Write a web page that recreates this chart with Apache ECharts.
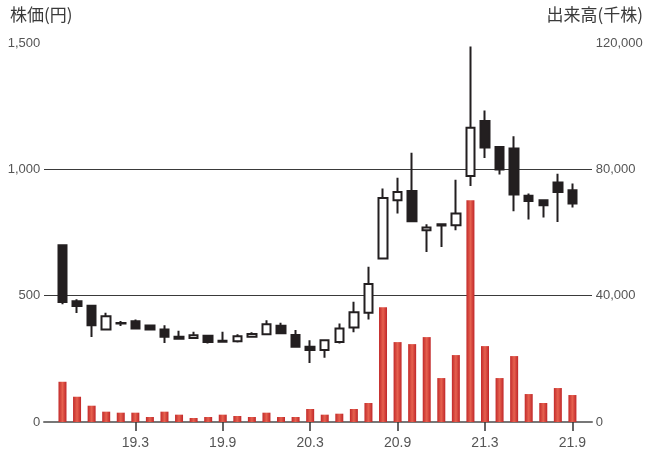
<!DOCTYPE html>
<html>
<head>
<meta charset="utf-8">
<script src="https://cdn.jsdelivr.net/npm/echarts@6/dist/echarts.min.js"></script>
<style>html,body{margin:0;padding:0;background:#fff;}#c{width:655px;height:461px;}</style>
</head>
<body>
<div id="c"></div>
<script>
const categories = ['18.10','18.11','18.12','19.1','19.2','19.3','19.4','19.5','19.6','19.7','19.8','19.9','19.10','19.11','19.12','20.1','20.2','20.3','20.4','20.5','20.6','20.7','20.8','20.9','20.10','20.11','20.12','21.1','21.2','21.3','21.4','21.5','21.6','21.7','21.8','21.9'];
const tickLabels = ['19.3','19.9','20.3','20.9','21.3','21.9'];
const openP  = [700,478,460,366,392,399,382,366,337,332,341,322,320,337,347,381,344,298,285,317,374,432,647,878,914,759,783,779,974,1191,1088,1082,895,878,948,917];
const closeP = [475,459,383,419,390,370,366,337,329,343,317,318,339,348,387,351,298,285,324,370,434,546,887,910,795,770,778,825,1165,1086,999,900,875,858,910,865];
const lowP   = [466,431,336,366,380,368,364,313,329,332,311,317,315,333,345,349,296,234,254,311,355,406,647,825,795,673,693,759,934,1045,980,834,801,809,792,849];
const highP  = [700,486,462,432,400,406,386,383,361,357,341,357,347,355,403,393,364,324,326,390,476,614,924,967,1066,783,786,959,1486,1233,1090,1131,904,880,983,944];
const volume = [12740,8000,5160,3270,2950,2950,1580,3270,2320,1260,1580,2320,1900,1580,2950,1580,1580,4110,2320,2630,4110,6010,36360,25300,24660,26880,13910,21190,70200,24030,13910,20870,8850,6010,10750,8540];

const kData = categories.map((c,i)=>[openP[i],closeP[i],lowP[i],highP[i]]);
const showTick = (idx, val) => tickLabels.indexOf(categories[idx]) >= 0;
const FONT = '"Liberation Sans", Arial, sans-serif';
const CJK = '"Noto Sans CJK JP", sans-serif';

const chart = echarts.init(document.getElementById('c'));
chart.setOption({
  animation: false,
  backgroundColor: '#fff',
  graphic: [
    {type:'text', left: 10, top: 6, style:{text:'株価(円)', font:'17px ' + CJK, fill:'#3a3a3a'}},
    {type:'text', right: 12, top: 6, style:{text:'出来高(千株)', font:'17px ' + CJK, fill:'#3a3a3a'}}
  ],
  grid: [
    {left: 55.2, right: 75.3, top: 43, bottom: 39},
    {left: 44, right: 63, top: 169, bottom: 39}
  ],
  xAxis: [
    {
      type: 'category', gridIndex: 0, data: categories, boundaryGap: true,
      axisLine: {show: false},
      axisTick: {show: true, alignWithLabel: true, interval: showTick, length: 9, inside: false, lineStyle:{color:'#333', width:1.5}},
      axisLabel: {interval: showTick, margin: 14, color:'#555', fontSize: 14, fontFamily: FONT},
      splitLine: {show: false}
    },
    {
      type: 'value', gridIndex: 1, min: 0, max: 1,
      axisLine: {show: true, onZero: false, lineStyle:{color:'#777', width:2}},
      axisTick: {show:false}, axisLabel:{show:false}, splitLine:{show:false}
    }
  ],
  yAxis: [
    {
      type: 'value', gridIndex: 0, min: 0, max: 1500, interval: 500, position:'left',
      axisLine:{show:false}, axisTick:{show:false}, splitLine:{show:false},
      axisLabel:{margin: 15, color:'#555', fontSize: 13, fontFamily: FONT,
        formatter: v => v.toLocaleString('en-US')}
    },
    {
      type: 'value', gridIndex: 0, min: 0, max: 120000, interval: 40000, position:'right',
      axisLine:{show:false}, axisTick:{show:false}, splitLine:{show:false},
      axisLabel:{margin: 16, color:'#555', fontSize: 13, fontFamily: FONT, align:'left',
        formatter: v => v.toLocaleString('en-US')}
    },
    {
      type: 'value', gridIndex: 1, min: 0, max: 1000, interval: 500,
      axisLine:{show:false}, axisTick:{show:false}, axisLabel:{show:false},
      splitLine:{show:true, lineStyle:{color:'#3a3a3a', width:1.2}}
    }
  ],
  series: [
    {
      type: 'bar', xAxisIndex: 0, yAxisIndex: 1, data: volume, barWidth: 8, z: 2,
      itemStyle: {color: new echarts.graphic.LinearGradient(0,0,1,0,[
        {offset:0, color:'#c22a2a'},{offset:0.5, color:'#e6614f'},{offset:1, color:'#c02628'}])}
    },
    {
      type: 'candlestick', xAxisIndex: 0, yAxisIndex: 0, data: kData, barWidth: 9, z: 3,
      itemStyle: {color:'#ffffff', color0:'#231f20', borderColor:'#231f20', borderColor0:'#231f20', borderWidth: 2}
    }
  ]
});
</script>
</body>
</html>
